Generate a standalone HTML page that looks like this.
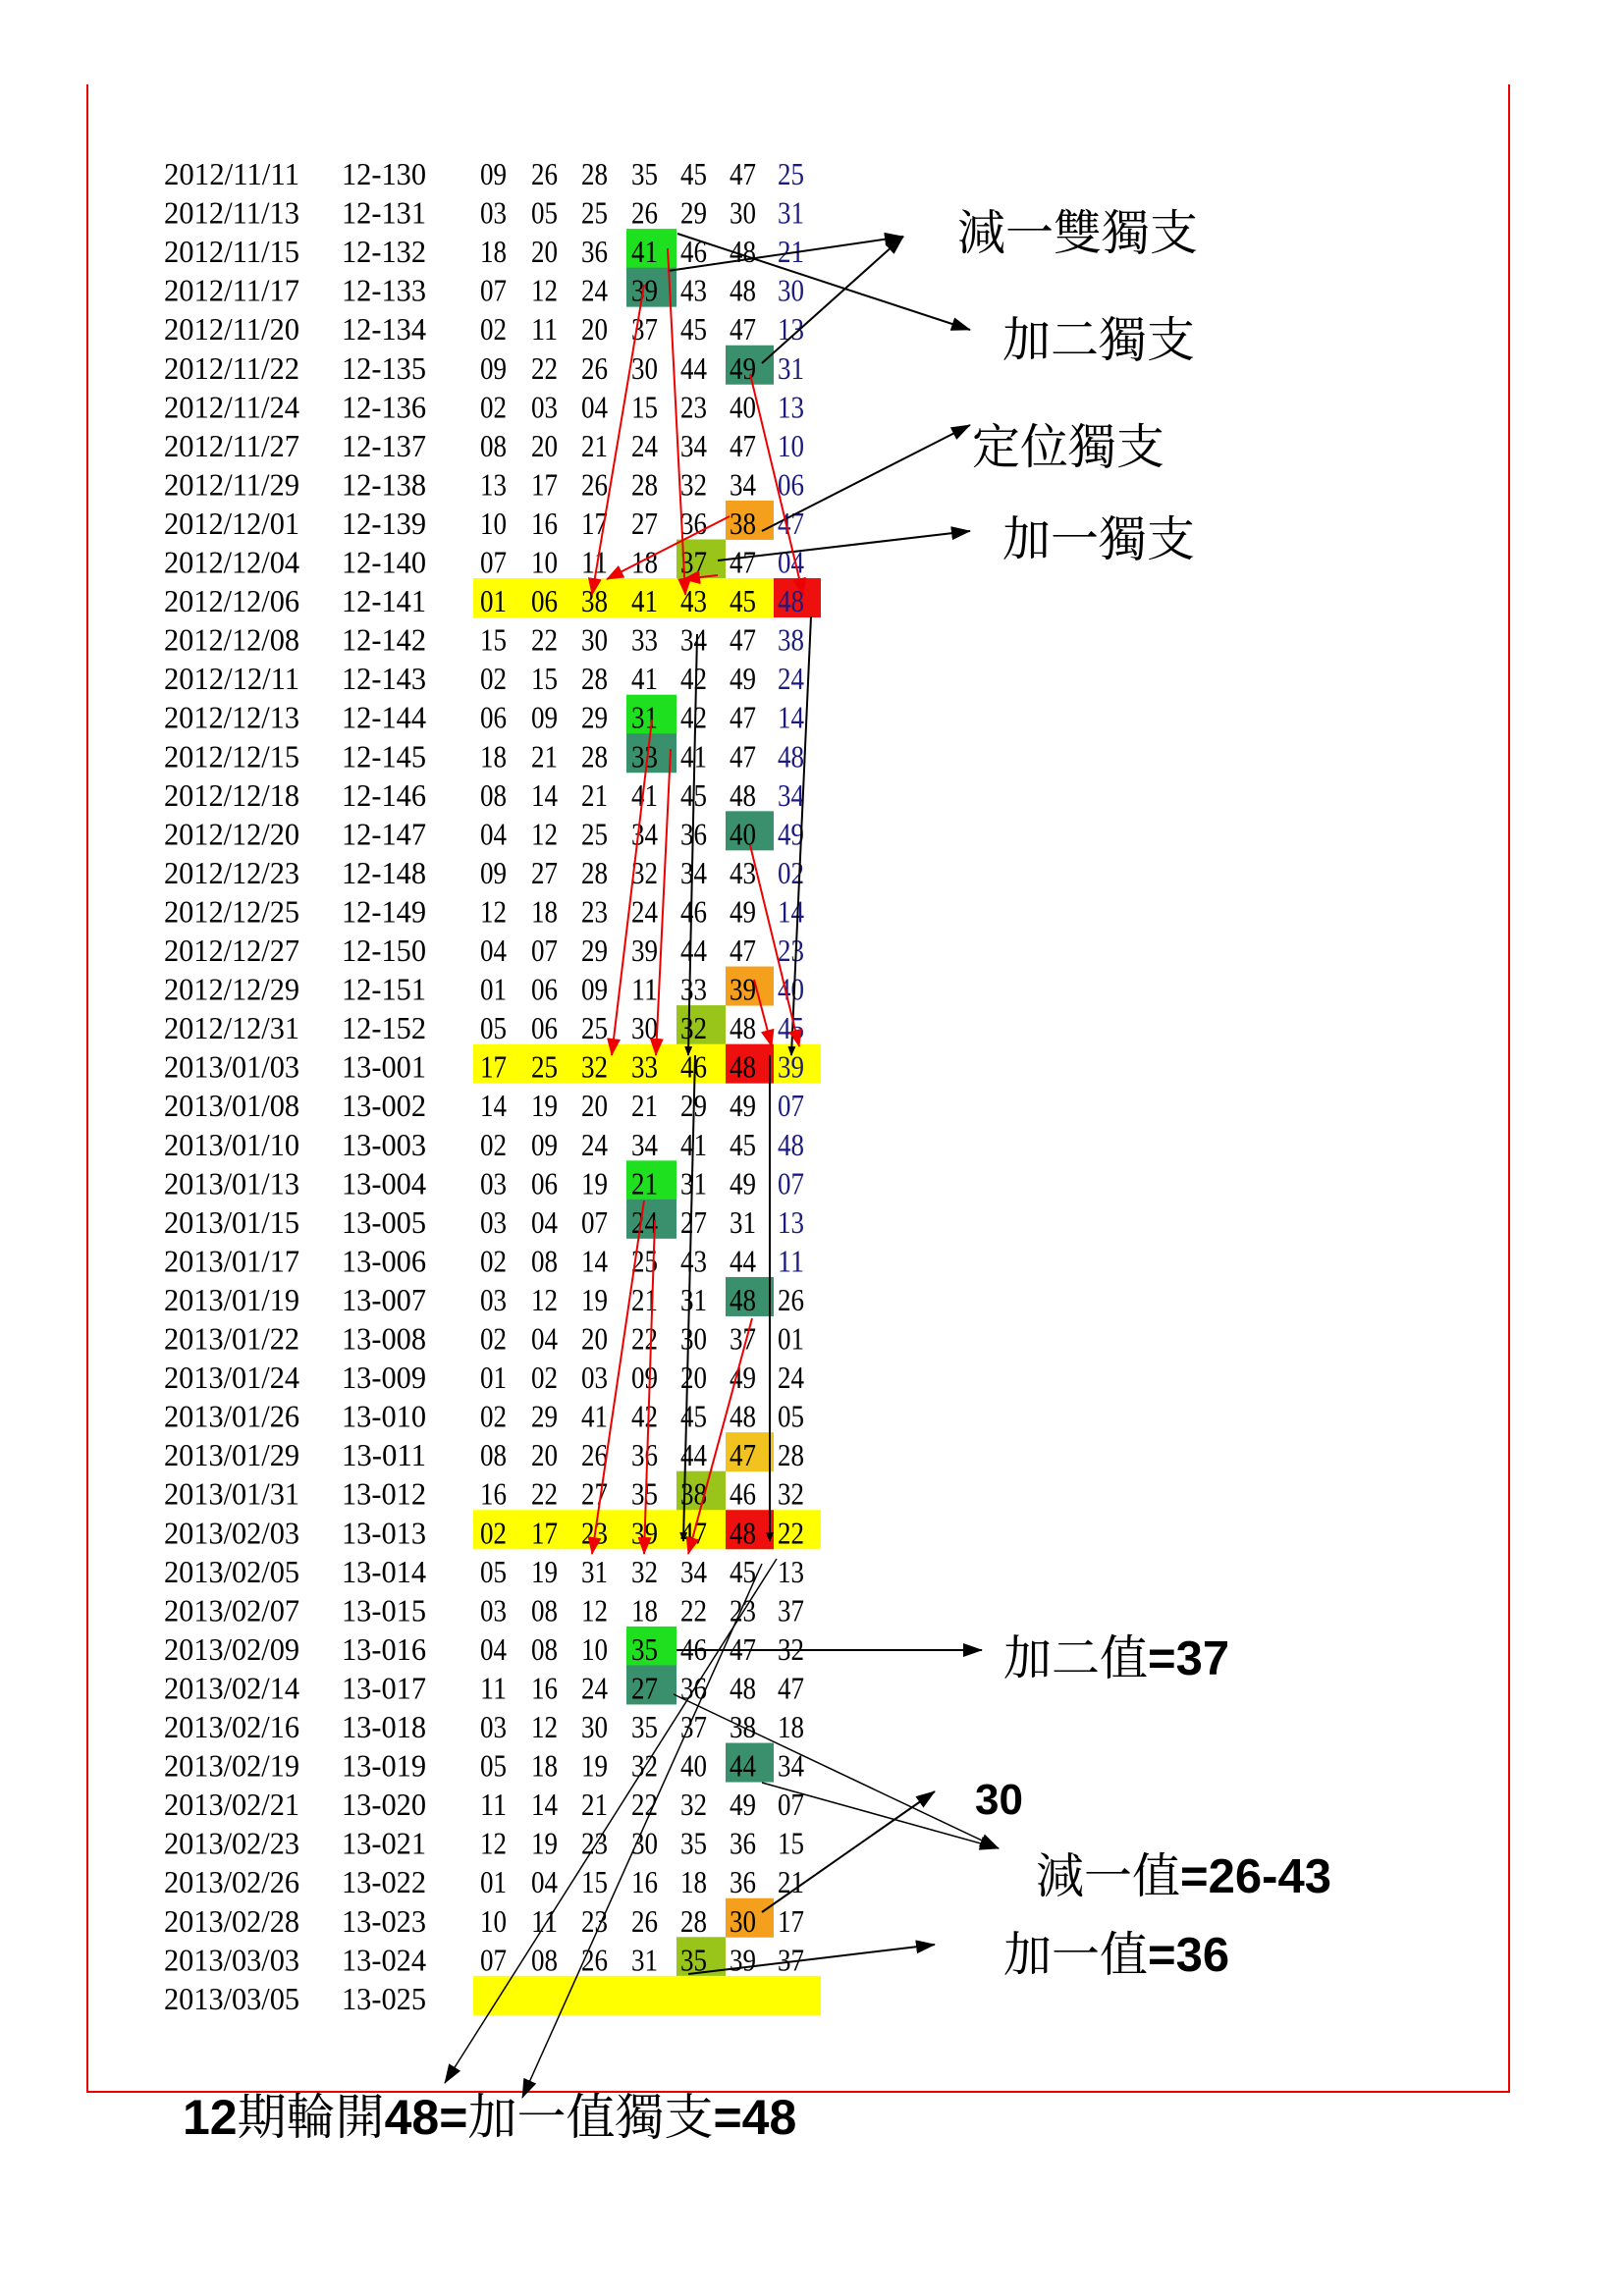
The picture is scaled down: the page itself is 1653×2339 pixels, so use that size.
<!DOCTYPE html>
<html><head><meta charset="utf-8"><style>
html,body{margin:0;padding:0;background:#fff;}
svg{display:block;}
</style></head><body>
<svg width="1653" height="2339" viewBox="0 0 1653 2339" xmlns="http://www.w3.org/2000/svg">
<defs>
<marker id="ab" markerWidth="10" markerHeight="8" refX="9" refY="4" orient="auto" markerUnits="userSpaceOnUse"><path d="M0,0 L10,4 L0,8 z" fill="#000"/></marker>
<marker id="abL" markerWidth="20" markerHeight="14" refX="19" refY="7" orient="auto" markerUnits="userSpaceOnUse"><path d="M0,0 L20,7 L0,14 z" fill="#000"/></marker>
<marker id="ar" markerWidth="18" markerHeight="14" refX="17" refY="7" orient="auto" markerUnits="userSpaceOnUse"><path d="M0,0 L18,7 L0,14 z" fill="#e00"/></marker>
</defs>
<rect width="1653" height="2339" fill="#fff"/>
<path d="M89,86 L89,2131 L1537,2131 L1537,86" fill="none" stroke="#e00" stroke-width="2"/>
<g id="cells"></g>
<g id="rows" font-family="Liberation Serif, serif" font-size="32"></g>
<g id="lines" fill="none"></g>
<g font-family="Liberation Serif, 'Noto Serif CJK SC', serif" font-size="49" fill="#000">
<text x="975" y="254">減一雙獨支</text>
<text x="1021" y="363">加二獨支</text>
<text x="990" y="472">定位獨支</text>
<text x="1021" y="566">加一獨支</text>
<text x="1022" y="1706">加二值<tspan font-family="Liberation Sans, sans-serif" font-weight="bold">=37</tspan></text>
<text x="993" y="1848" font-family="Liberation Sans, sans-serif" font-weight="bold" font-size="44">30</text>
<text x="1055" y="1928">減一值<tspan font-family="Liberation Sans, sans-serif" font-weight="bold">=26-43</tspan></text>
<text x="1022" y="2008">加一值<tspan font-family="Liberation Sans, sans-serif" font-weight="bold">=36</tspan></text>
<text x="186" y="2174" font-size="50"><tspan font-family="Liberation Sans, sans-serif" font-weight="bold">12</tspan>期輪開<tspan font-family="Liberation Sans, sans-serif" font-weight="bold">48=</tspan>加一值獨支<tspan font-family="Liberation Sans, sans-serif" font-weight="bold">=48</tspan></text>
</g>
</svg>
<script>
const rows=[
["2012/11/11","12-130","09 26 28 35 45 47 25",""],
["2012/11/13","12-131","03 05 25 26 29 30 31",""],
["2012/11/15","12-132","18 20 36 41 46 48 21","4g"],
["2012/11/17","12-133","07 12 24 39 43 48 30","4t"],
["2012/11/20","12-134","02 11 20 37 45 47 13",""],
["2012/11/22","12-135","09 22 26 30 44 49 31","6t"],
["2012/11/24","12-136","02 03 04 15 23 40 13",""],
["2012/11/27","12-137","08 20 21 24 34 47 10",""],
["2012/11/29","12-138","13 17 26 28 32 34 06",""],
["2012/12/01","12-139","10 16 17 27 36 38 47","6o"],
["2012/12/04","12-140","07 10 11 18 37 47 04","5y"],
["2012/12/06","12-141","01 06 38 41 43 45 48","Y7r"],
["2012/12/08","12-142","15 22 30 33 34 47 38",""],
["2012/12/11","12-143","02 15 28 41 42 49 24",""],
["2012/12/13","12-144","06 09 29 31 42 47 14","4g"],
["2012/12/15","12-145","18 21 28 33 41 47 48","4t"],
["2012/12/18","12-146","08 14 21 41 45 48 34",""],
["2012/12/20","12-147","04 12 25 34 36 40 49","6t"],
["2012/12/23","12-148","09 27 28 32 34 43 02",""],
["2012/12/25","12-149","12 18 23 24 46 49 14",""],
["2012/12/27","12-150","04 07 29 39 44 47 23",""],
["2012/12/29","12-151","01 06 09 11 33 39 40","6o"],
["2012/12/31","12-152","05 06 25 30 32 48 45","5y"],
["2013/01/03","13-001","17 25 32 33 46 48 39","Y6r"],
["2013/01/08","13-002","14 19 20 21 29 49 07",""],
["2013/01/10","13-003","02 09 24 34 41 45 48",""],
["2013/01/13","13-004","03 06 19 21 31 49 07","4g"],
["2013/01/15","13-005","03 04 07 24 27 31 13","4t"],
["2013/01/17","13-006","02 08 14 25 43 44 11",""],
["2013/01/19","13-007","03 12 19 21 31 48 26","6t"],
["2013/01/22","13-008","02 04 20 22 30 37 01",""],
["2013/01/24","13-009","01 02 03 09 20 49 24",""],
["2013/01/26","13-010","02 29 41 42 45 48 05",""],
["2013/01/29","13-011","08 20 26 36 44 47 28","6d"],
["2013/01/31","13-012","16 22 27 35 38 46 32","5y"],
["2013/02/03","13-013","02 17 23 39 47 48 22","Y6r"],
["2013/02/05","13-014","05 19 31 32 34 45 13",""],
["2013/02/07","13-015","03 08 12 18 22 23 37",""],
["2013/02/09","13-016","04 08 10 35 46 47 32","4g"],
["2013/02/14","13-017","11 16 24 27 36 48 47","4t"],
["2013/02/16","13-018","03 12 30 35 37 38 18",""],
["2013/02/19","13-019","05 18 19 32 40 44 34","6t"],
["2013/02/21","13-020","11 14 21 22 32 49 07",""],
["2013/02/23","13-021","12 19 23 30 35 36 15",""],
["2013/02/26","13-022","01 04 15 16 18 36 21",""],
["2013/02/28","13-023","10 11 23 26 28 30 17","6o"],
["2013/03/03","13-024","07 08 26 31 35 39 37","5y"],
["2013/03/05","13-025","","Y"]];
const cx=[502,554,605,656,706,756,805];
const bx=[482,531,580,638,689,739,788,836];
const col={g:"#1ee01e",t:"#3a8f6c",o:"#f4a01c",y:"#99c41a",r:"#ee0f0f",d:"#f2c21e"};
const NS="http://www.w3.org/2000/svg";
const C=document.getElementById("cells"),R=document.getElementById("rows");
function el(p,t,a,txt){const e=document.createElementNS(NS,t);for(const k in a)e.setAttribute(k,a[k]);if(txt!==undefined)e.textContent=txt;p.appendChild(e);return e;}
rows.forEach((r,i)=>{
 const c=177+i*39.55;
 let h=r[3];
 if(h.startsWith("Y")){el(C,"rect",{x:482,y:c-23,width:354,height:40,fill:"#ffff00"});h=h.slice(1);}
 if(h){const k=+h[0]-1;el(C,"rect",{x:bx[k],y:c-23,width:bx[k+1]-bx[k],height:40,fill:col[h[1]]});}
 el(R,"text",{x:167,y:c+11,textLength:138,lengthAdjust:"spacingAndGlyphs"},r[0]);
 el(R,"text",{x:348,y:c+11,textLength:86,lengthAdjust:"spacingAndGlyphs"},r[1]);
 if(r[2]){r[2].split(" ").forEach((n,j)=>{
   const a={x:cx[j]-13,y:c+11,textLength:27,lengthAdjust:"spacingAndGlyphs"};
   if(j==6&&i<=28)a.fill="#1a1a80";
   el(R,"text",a,n);});}
});
const L=document.getElementById("lines");
function ln(x1,y1,x2,y2,color,m,w){el(L,"line",{x1,y1,x2,y2,stroke:color,"stroke-width":w||2,"marker-end":"url(#"+m+")"});}
ln(690,238,988,336,"#000","abL");
ln(680,276,920,241,"#000","abL");
ln(776,370,920,241,"#000","abL");
ln(776,541,988,433,"#000","abL");
ln(731,571,988,541,"#000","abL");
ln(656,290,603,606,"#e00","ar");
ln(680,253,698,606,"#e00","ar");
ln(764,381,818,606,"#e00","ar");
ln(743,526,618,590,"#e00","ar");
ln(731,586,696,590,"#e00","ar");
ln(710,646,701,1075,"#000","ab");
ln(826,628,806,1075,"#000","ab");
ln(664,733,623,1075,"#e00","ar");
ln(683,763,668,1075,"#e00","ar");
ln(764,861,814,1066,"#e00","ar");
ln(768,998,786,1066,"#e00","ar");
ln(656,1223,603,1583,"#e00","ar");
ln(667,1243,656,1583,"#e00","ar");
ln(766,1343,701,1583,"#e00","ar");
ln(784,1075,784,1570,"#000","ab");
ln(708,1075,696,1570,"#000","ab");
ln(689,1681,1000,1681,"#000","abL");
ln(776,1816,1017,1883,"#000","abL",1.5);
ln(686,1726,1017,1883,"#000","abL",1.5);
ln(776,1948,952,1825,"#000","abL");
ln(701,2011,952,1981,"#000","abL");
ln(791,1588,453,2122,"#000","abL",1.5);
ln(776,1593,532,2137,"#000","abL",1.5);
</script>
</body></html>
